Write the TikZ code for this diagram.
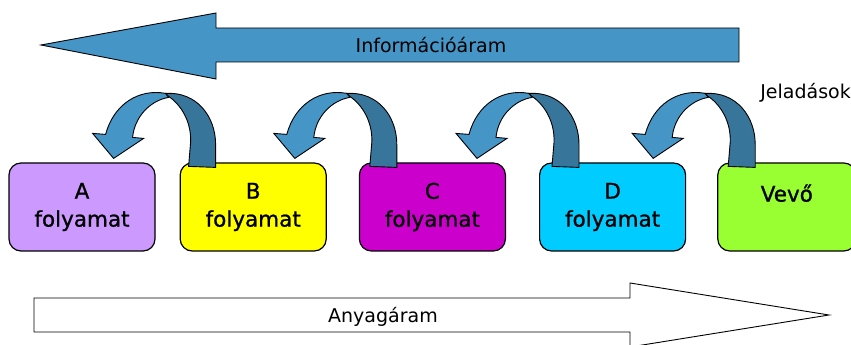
\documentclass[tikz,border=0pt]{standalone}
\usepackage{fontspec}
\setmainfont{DejaVu Sans}
\newfontfamily\medfont{DejaVu Sans}[FakeBold=1]
\usetikzlibrary{positioning}

\definecolor{infoblue}{RGB}{69,149,198}
\definecolor{backblue}{RGB}{56,117,155}
\definecolor{procA}{RGB}{204,153,255}
\definecolor{procB}{RGB}{255,255,0}
\definecolor{procC}{RGB}{204,0,204}
\definecolor{procD}{RGB}{0,204,255}
\definecolor{vevo}{RGB}{153,255,51}

\tikzset{
  proc/.style = {draw=black, line width=1.2pt, rounded corners=12pt, minimum width=146pt,
                 minimum height=88pt, align=center, inner sep=0pt,
                 font=\medfont\fontsize{21.5}{28}\selectfont},
  flowarrow/.style = {draw=black, line width=0.9pt},
  flowtext/.style = {font=\fontsize{19}{22}\selectfont, inner sep=1pt},
  sigfront/.style = {draw=black, line width=0.9pt, fill=infoblue},
  sigback/.style = {draw=black, line width=0.9pt, fill=backblue},
  jelzes/.pic = {
    \draw[sigfront] (-23,73) .. controls (-50,78) and (-75,62) .. (-83,32) -- (-96,33)
      -- (-75,8) -- (-45,28) -- (-56,29) .. controls (-54,50) and (-38,66) .. (-20,69) -- cycle;
    \draw[sigback] (0,0) -- (27,-1) -- (27,22) .. controls (27,50) and (8,75) .. (-23,73)
      -- (-20,70) .. controls (-8,62) and (3,45) .. (2,24) -- cycle;
  }
}

\begin{document}
\begin{tikzpicture}[x=1pt, y=1pt, node distance=31pt]
  \clip (0,0) rectangle (851,345);

  % informacioaram
  \draw[flowarrow, fill=infoblue] (41,300) -- (216,332) -- (216,317) -- (739,317)
    -- (739,283) -- (216,283) -- (216,266) -- cycle;
  \node[flowtext] (info) at (431,300) {Információáram};

  % folyamatok
  \node[proc, fill=procA] (A) at (82,138) {A\\folyamat};
  \node[proc, fill=procB] (B) [right = 24pt of A] {B\\folyamat};
  \node[proc, fill=procC] (C) [right = 32pt of B] {C\\folyamat};
  \node[proc, fill=procD] (D) [right = 33pt of C] {D\\folyamat};
  \node[proc, fill=vevo, minimum width=138pt] (E) [right = of D] {Vevő\\\mbox{}};

  % jeladasok
  \pic at ([shift={(9,-4)}]B.north west) {jelzes};
  \pic at ([shift={(11,-4)}]C.north west) {jelzes};
  \pic at ([shift={(13,-4)}]D.north west) {jelzes};
  \pic at ([shift={(11,-4)}]E.north west) {jelzes};
  \node[flowtext, anchor=east] (jel) at (852,252) {Jeladások};

  % anyagaram
  \draw[flowarrow, fill=white] (34,47) -- (630,47) -- (630,62) -- (829,30)
    -- (630,-2) -- (630,13) -- (34,13) -- cycle;
  \node[flowtext] (anyag) at (383,28) {Anyagáram};
\end{tikzpicture}
\end{document}
